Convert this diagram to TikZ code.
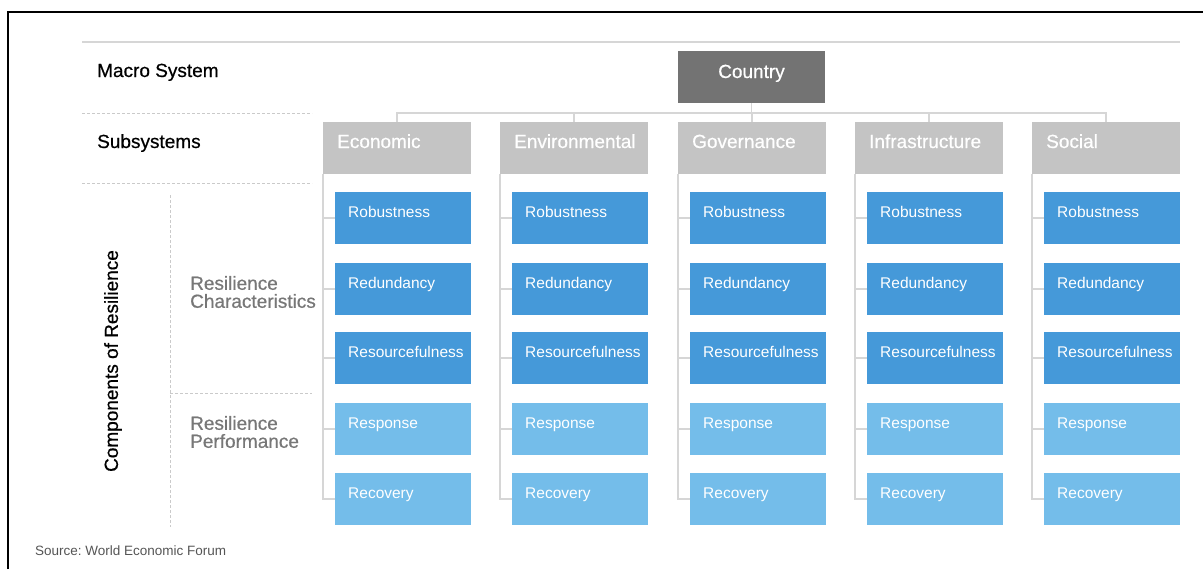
\documentclass[tikz,border=0pt]{standalone}
\usepackage{fontspec}
\setmainfont{Liberation Sans}
\newfontfamily\medfont[FakeBold=0.6]{Liberation Sans}
\frenchspacing
\definecolor{darkblue}{HTML}{4599D9}
\definecolor{lightblue}{HTML}{74BDEA}
\definecolor{subgray}{HTML}{C4C4C4}
\definecolor{countrygray}{HTML}{737373}
\definecolor{linegray}{HTML}{D6D6D6}
\definecolor{dashgray}{HTML}{CACACA}
\definecolor{labelgray}{HTML}{777777}
\definecolor{srcgray}{HTML}{555555}
\newcommand{\headfont}{\medfont\fontsize{19}{18}\selectfont}
\newcommand{\compfont}{\fontsize{15.5}{18}\selectfont}
\tikzset{
  box/.style={anchor=north west, inner sep=0pt, outer sep=0pt, minimum height=52pt},
  subbox/.style={box, fill=subgray, minimum width=148pt},
  compbox/.style={box, minimum width=136pt},
  boxtext/.style={anchor=base west, inner sep=0pt, text=white},
  heading/.style={anchor=base west, inner sep=0pt, font=\headfont, text=black},
  sidelabel/.style={anchor=west, inner sep=0pt, align=left, font=\headfont, text=labelgray},
  tree/.style={draw=linegray, line width=1.3pt},
  dashline/.style={draw=dashgray, line width=0.9pt, dash pattern=on 3pt off 2pt},
}
\begin{document}
\begin{tikzpicture}[x=1pt, y=-1pt]
\useasboundingbox (0,0) rectangle (1203,570);
% frame
\draw[line width=2.5pt, black] (8,569) -- (8,12) -- (1203,12);
% rules
\draw[tree, line width=1.2pt] (82,42) -- (1180,42);
\draw[dashline] (82,113) -- (312,113);
\draw[dashline] (82,183) -- (312,183);
\draw[dashline] (170,195) -- (170,527);
\draw[dashline] (170,393) -- (312,393);
% left labels
\node[heading] (macro) at (97,77) {Macro System};
\node[heading] (subs) at (97,148) {Subsystems};
\node[rotate=90, inner sep=0pt, font=\headfont] (cor) at (113,361) {Components of Resilience};
\node[sidelabel] (rchar) at (190,292) {Resilience\\Characteristics};
\node[sidelabel] (rperf) at (190,432) {Resilience\\Performance};
% country
\node[box, fill=countrygray, minimum width=147pt] (country) at (678,51) {};
\node[anchor=base, inner sep=0pt, text=white, font=\headfont] (countrytext) at (751.5,78) {Country};
% columns
\foreach \name/\xs [count=\i] in {Economic/323, Environmental/500, Governance/678, Infrastructure/855, Social/1032}{
  \node[subbox] (s\i) at (\xs,122) {};
  \node[boxtext, font=\headfont] (st\i) at (\xs+14,148) {\name};
  \draw[tree] (country.south) -- ++(0,10) -| (s\i.north);
  \foreach \lab/\ys/\col [count=\j] in {Robustness/192/darkblue, Redundancy/263/darkblue, Resourcefulness/332/darkblue, Response/403/lightblue, Recovery/473/lightblue}{
    \node[compbox, fill=\col] (c\i-\j) at (\xs+12,\ys) {};
    \node[boxtext, font=\compfont] (ct\i-\j) at (\xs+25,\ys+25) {\lab};
  }
  \draw[tree] (s\i.south west) |- (c\i-5.west);
  \foreach \j in {1,2,3,4}{
    \draw[tree] (s\i.south west |- c\i-\j.west) -- (c\i-\j.west);
  }
}
% source
\node[anchor=base west, inner sep=0pt, font=\fontsize{13.5}{16}\selectfont, text=srcgray] (src) at (35,555) {Source: World Economic Forum};
\end{tikzpicture}
\end{document}
